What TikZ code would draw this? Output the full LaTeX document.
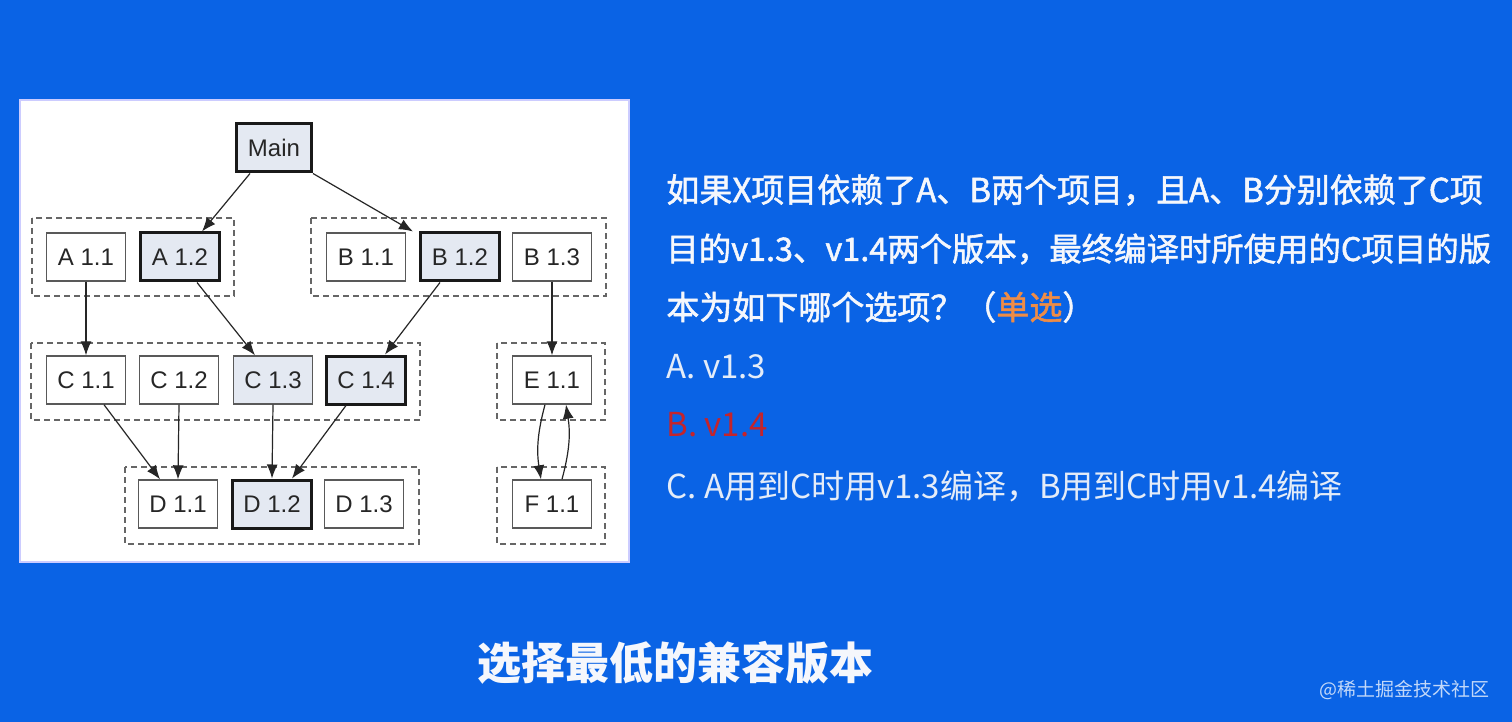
\documentclass[tikz,border=0pt]{standalone}
\usepackage{fontspec}
\setmainfont{Liberation Sans}
\newfontfamily\cjk{Noto Sans CJK SC}
\newfontfamily\cjkfb{Noto Sans CJK SC}[FakeBold=1.6]
\usetikzlibrary{arrows.meta}
\definecolor{bgblue}{RGB}{10,99,229}
\definecolor{selfill}{RGB}{228,233,242}
\definecolor{qorange}{RGB}{238,140,70}
\definecolor{qred}{RGB}{196,36,44}
\definecolor{txtw}{RGB}{245,247,252}
\definecolor{optw}{RGB}{228,236,248}
\tikzset{
  ver/.style={draw=black!65, line width=0.7pt, fill=white, minimum width=39.5pt, minimum height=24pt, inner sep=0pt, font=\fontsize{12}{14}\selectfont, text=black!85},
  sel/.style={ver, draw=black!90, line width=1.5pt, fill=selfill},
  grp/.style={draw=black!60, dash pattern=on 3pt off 2pt, line width=0.6pt},
  dep/.style={-{Latex[length=7pt,width=5.5pt]}, line width=0.6pt, draw=black!85},
  qtext/.style={anchor=west, inner sep=0pt, text=txtw, font=\cjkfb\fontsize{16.5}{20}\selectfont},
  otext/.style={anchor=west, inner sep=0pt, text=optw, font=\cjk\fontsize{16.5}{20}\selectfont}
}
\begin{document}
\begin{tikzpicture}[x=0.5pt,y=-0.5pt]
\useasboundingbox (0,0) rectangle (1512,722);
\fill[bgblue] (0,0) rectangle (1512,722);
\filldraw[fill=white, draw=blue!20, line width=0.8pt] (20,100) rectangle (629,562);
% groups
\draw[grp] (32,218) rectangle (234,296);
\draw[grp] (311,218) rectangle (606,296);
\draw[grp] (31,343) rectangle (420,420);
\draw[grp] (497,343) rectangle (605,420);
\draw[grp] (125,467) rectangle (419,544);
\draw[grp] (497,467) rectangle (605,544);
% nodes
\node[sel, minimum width=37.5pt] (Main) at (274,148) {Main};
\node[ver] (A11) at (86,257) {A 1.1};
\node[sel] (A12) at (180,257) {A 1.2};
\node[ver] (B11) at (366,257) {B 1.1};
\node[sel] (B12) at (460,257) {B 1.2};
\node[ver] (B13) at (552,257) {B 1.3};
\node[ver] (C11) at (86,380) {C 1.1};
\node[ver] (C12) at (179,380) {C 1.2};
\node[ver, fill=selfill] (C13) at (273,380) {C 1.3};
\node[sel] (C14) at (366,380) {C 1.4};
\node[ver] (E11) at (552,380) {E 1.1};
\node[ver] (D11) at (178,504) {D 1.1};
\node[sel] (D12) at (272,504) {D 1.2};
\node[ver] (D13) at (364,504) {D 1.3};
\node[ver] (F11) at (552,504) {F 1.1};
% edges
\draw[dep] ([xshift=-12pt]Main.south) -- ([xshift=11pt]A12.north);
\draw[dep] (Main.south east) -- ([xshift=-23.5pt]B12.north);
\draw[dep] (A11.south) -- (C11.north);
\draw[dep] ([xshift=8.5pt]A12.south) -- ([xshift=-9pt]C13.north);
\draw[dep] ([xshift=-10pt]B12.south) -- ([xshift=9.5pt]C14.north);
\draw[dep] (B13.south) -- (E11.north);
\draw[dep] ([xshift=9pt]C11.south) -- ([xshift=-9pt]D11.north);
\draw[dep] (C12.south) -- (D11.north);
\draw[dep] (C13.south) -- (D12.north);
\draw[dep] ([xshift=-10pt]C14.south) -- ([xshift=10pt]D12.north);
\draw[dep] ([xshift=-3.5pt]E11.south) to[bend right=12] ([xshift=-5.5pt]F11.north);
\draw[dep] ([xshift=5pt]F11.north) to[bend right=12] ([xshift=7pt]E11.south);
% question text
\node[qtext] (q1) at (666,190) {如果X项目依赖了A、B两个项目，且A、B分别依赖了C项};
\node[qtext, font=\cjkfb\fontsize{16.2}{20}\selectfont] (q2) at (666,249) {目的v1.3、v1.4两个版本，最终编译时所使用的C项目的版};
\node[qtext] (q3) at (666,307) {本为如下哪个选项？（\textcolor{qorange}{单选}）};
\node[otext] (oa) at (666,367) {A. v1.3};
\node[otext, text=qred] (ob) at (666,425) {B. v1.4};
\node[otext] (oc) at (666,486) {C. A用到C时用v1.3编译，B用到C时用v1.4编译};
\node[anchor=center, inner sep=0pt, text=txtw, font=\cjk\bfseries\fontsize{22}{26}\selectfont] (title) at (675,663) {选择最低的兼容版本};
\node[anchor=east, inner sep=0pt, text=white!75!bgblue, font=\cjk\fontsize{9.5}{11}\selectfont] (wm) at (1490,690) {@稀土掘金技术社区};
\end{tikzpicture}
\end{document}
